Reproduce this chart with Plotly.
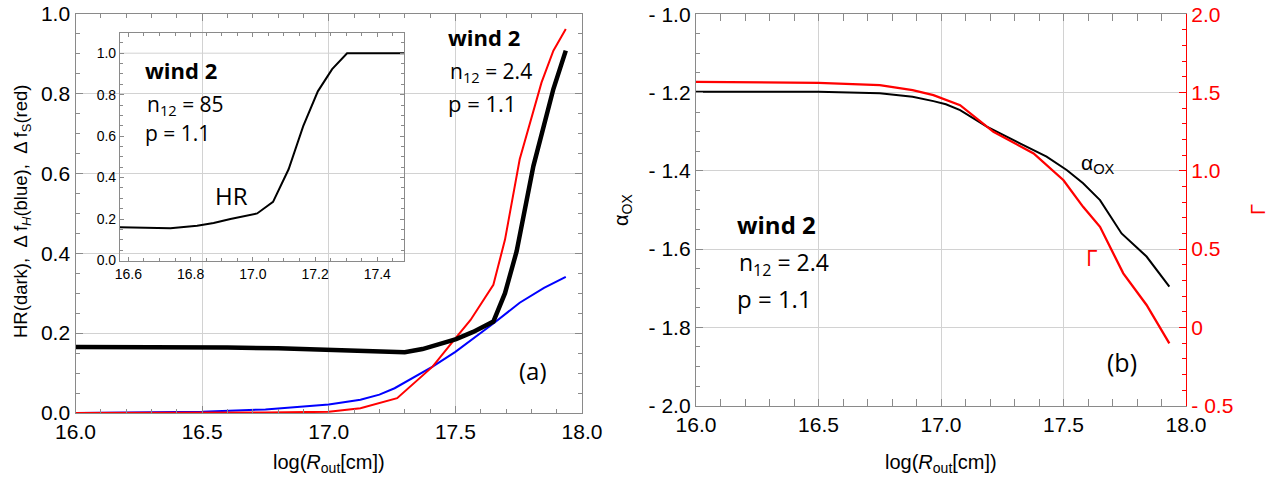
import plotly.graph_objects as go

W, H = 1281, 478

# ---------------- panel (a): main curves ----------------
hr_x = [16.0, 16.2, 16.4, 16.6, 16.8, 17.0, 17.1, 17.2, 17.26, 17.3, 17.37, 17.43,
        17.503, 17.57, 17.65, 17.696, 17.742, 17.808, 17.85, 17.887, 17.936]
hr_y = [0.165, 0.165, 0.165, 0.164, 0.162, 0.158, 0.155, 0.152, 0.151, 0.152, 0.160, 0.170,
        0.185, 0.203, 0.229, 0.300, 0.405, 0.618, 0.72, 0.811, 0.907]

dfh_x = [16.0, 16.25, 16.5, 16.75, 17.0, 17.125, 17.2, 17.26, 17.41, 17.5, 17.65, 17.754, 17.85, 17.936]
dfh_y = [0.0, 0.001, 0.003, 0.009, 0.021, 0.033, 0.046, 0.062, 0.116, 0.153, 0.224, 0.276, 0.313, 0.341]

dfs_x = [16.0, 16.5, 16.75, 17.0, 17.125, 17.27, 17.41, 17.5, 17.56, 17.65, 17.696, 17.754, 17.84, 17.887, 17.936]
dfs_y = [0.0, 0.0005, 0.001, 0.003, 0.012, 0.037, 0.116, 0.187, 0.233, 0.321, 0.434, 0.635, 0.827, 0.907, 0.961]

# ---------------- panel (a): inset ----------------
inset_x = [16.572, 16.681, 16.735, 16.821, 16.874, 16.928, 17.014, 17.065, 17.115,
           17.162, 17.209, 17.255, 17.303, 17.49]
inset_hr = [0.16, 0.155, 0.155, 0.168, 0.181, 0.20, 0.227, 0.283, 0.44,
            0.648, 0.816, 0.923, 1.0, 1.0]
inset_grid_y = [1.0]

# ---------------- panel (b) ----------------
aox_x = [16.0, 16.25, 16.5, 16.75, 16.884, 16.969, 17.02, 17.078, 17.187, 17.322, 17.431,
         17.513, 17.58, 17.649, 17.737, 17.839, 17.932]
aox_y = [-1.198, -1.198, -1.198, -1.202, -1.211, -1.222, -1.230, -1.245, -1.287, -1.330, -1.364,
         -1.398, -1.432, -1.475, -1.560, -1.619, -1.696]

gam_x = [16.0, 16.5, 16.75, 16.884, 16.969, 17.078, 17.214, 17.378, 17.5, 17.58, 17.649,
         17.744, 17.839, 17.932]
gam_y = [1.568, 1.561, 1.547, 1.515, 1.483, 1.419, 1.249, 1.111, 0.940, 0.770, 0.642,
         0.345, 0.143, -0.102]

alpha_ticks = [-2.0, -1.8, -1.6, -1.4, -1.2, -1.0]
alpha_ticktext = ["- 2.0", "- 1.8", "- 1.6", "- 1.4", "- 1.2", "- 1.0"]
gamma_ticks = [-0.5, 0.0, 0.5, 1.0, 1.5, 2.0]
gamma_ticktext = ["- 0.5", "0", "0.5", "1.0", "1.5", "2.0"]


def px(x):
    return x / W


def py(y):
    return 1 - y / H


FRAME = "#8a8a8a"
GRID = "#d2d2d2"
TICKFONT = dict(family="Liberation Sans, Arial", size=21, color="black")
TXT = "Open Sans"

fig = go.Figure()
fig.add_trace(go.Scatter(x=dfh_x, y=dfh_y, mode="lines", line=dict(color="#0000ff", width=2),
                         xaxis="x", yaxis="y"))
fig.add_trace(go.Scatter(x=dfs_x, y=dfs_y, mode="lines", line=dict(color="#ff0000", width=2),
                         xaxis="x", yaxis="y"))
fig.add_trace(go.Scatter(x=hr_x, y=hr_y, mode="lines", line=dict(color="black", width=4.5),
                         xaxis="x", yaxis="y"))
fig.add_trace(go.Scatter(x=inset_x, y=inset_hr, mode="lines", line=dict(color="black", width=2),
                         xaxis="x3", yaxis="y3"))
fig.add_trace(go.Scatter(x=aox_x, y=aox_y, mode="lines", line=dict(color="black", width=2),
                         xaxis="x2", yaxis="y2"))
fig.add_trace(go.Scatter(x=gam_x, y=gam_y, mode="lines", line=dict(color="#ff0000", width=2.3),
                         xaxis="x2", yaxis="y4"))

base = dict(showline=True, linecolor=FRAME, linewidth=1.3, ticks="inside", ticklen=7,
            tickcolor=FRAME, zeroline=False, tickfont=TICKFONT, automargin=False)

fig.update_layout(
    width=W, height=H,
    margin=dict(l=0, r=0, t=0, b=0, autoexpand=False),
    paper_bgcolor="white",
    plot_bgcolor="rgba(0,0,0,0)",
    showlegend=False,
    xaxis=dict(**base, domain=[px(75.5), px(582)], range=[16, 18], tick0=16, dtick=0.5,
               tickformat=".1f", mirror="allticks", anchor="y",
               showgrid=True, gridcolor=GRID, gridwidth=1,
               minor=dict(tick0=16, dtick=0.1, ticks="inside", ticklen=4, tickcolor=FRAME)),
    yaxis=dict(**base, domain=[py(413), py(13.5)], range=[0, 1], tick0=0, dtick=0.2,
               tickformat=".1f", mirror="allticks", anchor="x",
               showgrid=True, gridcolor=GRID, gridwidth=1,
               minor=dict(tick0=0, dtick=0.05, ticks="inside", ticklen=4, tickcolor=FRAME)),
    xaxis3=dict(showline=True, linecolor=FRAME, linewidth=1.2, ticks="inside", ticklen=4,
                tickcolor=FRAME, zeroline=False, automargin=False,
                tickfont=dict(family="Liberation Sans, Arial", size=14, color="black"),
                domain=[px(120), px(404)], range=[16.573, 17.486], tick0=16.6, dtick=0.2,
                tickformat=".1f", mirror="allticks", anchor="y3", showgrid=False,
                minor=dict(tick0=16.6, dtick=0.05, ticks="inside", ticklen=2.5, tickcolor=FRAME)),
    yaxis3=dict(showline=True, linecolor=FRAME, linewidth=1.2, ticks="inside", ticklen=4,
                tickcolor=FRAME, zeroline=False, automargin=False,
                tickfont=dict(family="Liberation Sans, Arial", size=14, color="black"),
                domain=[py(260.7), py(33.3)], range=[-0.001, 1.096], tick0=0, dtick=0.2,
                tickformat=".1f", mirror="allticks", anchor="x3", showgrid=False,
                minor=dict(tick0=0, dtick=0.05, ticks="inside", ticklen=2.5, tickcolor=FRAME)),
    xaxis2=dict(**base, domain=[px(696), px(1186)], range=[16, 18], tick0=16, dtick=0.5,
                tickformat=".1f", mirror="allticks", anchor="y2",
                showgrid=True, gridcolor=GRID, gridwidth=1,
                minor=dict(tick0=16, dtick=0.1, ticks="inside", ticklen=4, tickcolor=FRAME)),
    yaxis2=dict(**base, domain=[py(405.7), py(14.2)], range=[-2, -1],
                tickmode="array", tickvals=alpha_ticks, ticktext=alpha_ticktext,
                mirror=False, anchor="x2",
                showgrid=True, gridcolor=GRID, gridwidth=1,
                minor=dict(tickmode="linear", tick0=-2, dtick=0.05, ticks="inside", ticklen=4,
                           tickcolor=FRAME)),
    yaxis4=dict(showline=True, linecolor="#ff0000", linewidth=1.3, ticks="inside", ticklen=7,
                tickcolor="#ff0000", zeroline=False, automargin=False,
                tickfont=dict(family="Liberation Sans, Arial", size=21, color="#ff0000"),
                overlaying="y2", side="right", anchor="x2", range=[-0.5, 2.0],
                tickmode="array", tickvals=gamma_ticks, ticktext=gamma_ticktext,
                showgrid=False,
                minor=dict(tickmode="linear", tick0=-0.5, dtick=0.1, ticks="inside", ticklen=4,
                           tickcolor="#ff0000")),
)

for gy in inset_grid_y:
    fig.add_shape(type="line", xref="x3 domain", yref="y3", x0=0, x1=1, y0=gy, y1=gy,
                  line=dict(color=GRID, width=1), layer="below")

ann = []


def text(x, y, s, size=22, color="black", xanchor="left", family=TXT, angle=0):
    ann.append(dict(x=px(x), y=py(y), xref="paper", yref="paper", text=s, showarrow=False,
                    xanchor=xanchor, yanchor="middle", textangle=angle,
                    font=dict(family=family, size=size, color=color)))


# panel (a) texts
text(446, 37, "<b>wind 2</b>", 22)
text(448, 72, "n<sub>12</sub> = 2.4", 21)
text(446, 103, "p = 1.1", 22)
text(533, 370, "(a)", 24, xanchor="center")
# inset texts
text(143, 70, "<b>wind 2</b>", 22)
text(145, 105, "n<sub>12</sub> = 85", 21)
text(143, 133, "p = 1.1", 21)
text(231, 195, "HR", 24, xanchor="center")
# panel (b) texts
text(735, 224, "<b>wind 2</b>", 24)
text(737, 263, "n<sub>12</sub> = 2.4", 23)
text(735, 298, "p = 1.1", 24)
text(1122, 362, "(b)", 25, xanchor="center")
text(1098, 164, "α<sub>OX</sub>", 21, xanchor="center", family="Liberation Sans, Arial")
text(1091, 257, "Γ", 22, color="#ff0000", xanchor="center")

# axis titles
AX = "Liberation Sans, Arial"
text(22, 212, "HR(dark),  Δ f<sub><i>H</i></sub>(blue),  Δ f<sub>S</sub>(red)", 18.5,
     xanchor="center", family=AX, angle=-90)
text(329, 463, "log(<i>R</i><sub>out</sub>[cm])", 20, xanchor="center", family=AX)
text(941, 463, "log(<i>R</i><sub>out</sub>[cm])", 20, xanchor="center", family=AX)
text(622, 210, "α<sub>OX</sub>", 20, xanchor="center", family=AX, angle=-90)
text(1258, 210, "Γ", 20, color="#ff0000", xanchor="center", family=AX, angle=-90)

fig.update_layout(annotations=ann)
fig.write_html("out.html")
